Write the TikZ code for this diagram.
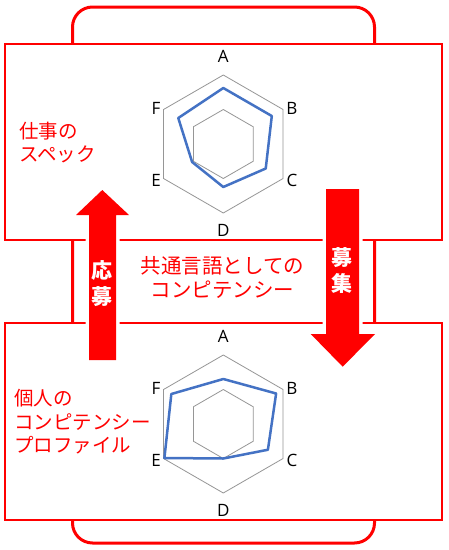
\documentclass[tikz,border=0pt]{standalone}
\usepackage{fontspec}
\setmainfont{Open Sans}
\newfontfamily\jpfont{Noto Sans CJK JP}
\usetikzlibrary{calc}
\definecolor{chartblue}{RGB}{68,114,196}
\definecolor{gridgray}{RGB}{150,150,150}
\tikzset{
  frame/.style={draw=red, line width=2.5pt, fill=white},
  outerframe/.style={draw=red, line width=3pt, rounded corners=20pt},
  grid/.style={draw=gridgray, line width=0.8pt},
  datapoly/.style={draw=chartblue, line width=2.5pt, line join=round},
  axislabel/.style={font=\fontsize{17}{19}\selectfont, inner sep=0pt},
  jptext/.style={text=red, font=\jpfont\fontsize{19.5}{23.5}\selectfont, inner sep=0pt},
  jpcenter/.style={text=red, font=\jpfont\fontsize{20.5}{24}\selectfont, inner sep=0pt},
  arrowtext/.style={text=white, font=\jpfont\bfseries\fontsize{21}{26}\selectfont, inner sep=0pt, align=center},
  arrowfill/.style={fill=red},
  arrowhalo/.style={draw=white, line width=7pt, line join=miter},
}
\begin{document}
\begin{tikzpicture}[x=1pt,y=-1pt]
\useasboundingbox (0,0) rectangle (449,550);
% outer rounded frame
\draw[outerframe] (72.5,7) rectangle (374.5,543);
% two panels
\path[frame] (5,44) rectangle (442,240);
\path[frame] (5,323) rectangle (442,520);
% radar centres
\coordinate (c1) at (223.3,144);
\coordinate (c2) at (223.3,424);
% grids
\foreach \cc in {c1,c2}{
  \foreach \r in {34.5pt,69pt}{
    \draw[grid] ($(\cc)+(90:\r)$) -- ($(\cc)+(30:\r)$) -- ($(\cc)+(-30:\r)$) -- ($(\cc)+(-90:\r)$) -- ($(\cc)+(-150:\r)$) -- ($(\cc)+(150:\r)$) -- cycle;
  }
}
% data polygons
\draw[datapoly] ($(c1)+(90:56pt)$) -- ($(c1)+(30:56pt)$) -- ($(c1)+(-30:49pt)$) -- ($(c1)+(-90:43pt)$) -- ($(c1)+(-150:36pt)$) -- ($(c1)+(150:52pt)$) -- cycle;
\draw[datapoly] ($(c2)+(90:45pt)$) -- ($(c2)+(30:61pt)$) -- ($(c2)+(-30:51.5pt)$) -- ($(c2)+(-90:34.5pt)$) -- ($(c2)+(-150:68pt)$) -- ($(c2)+(150:60pt)$) -- cycle;
% axis labels chart 1
\node[axislabel] (a1) at (223.3,56) {A};
\node[axislabel] (b1) at (292,108) {B};
\node[axislabel] (cl1) at (292,180) {C};
\node[axislabel] (d1) at (223.3,230) {D};
\node[axislabel] (e1) at (156,180) {E};
\node[axislabel] (f1) at (156,108) {F};
% axis labels chart 2
\node[axislabel] (a2) at (223.3,336) {A};
\node[axislabel] (b2) at (292,388) {B};
\node[axislabel] (cl2) at (292,460) {C};
\node[axislabel] (d2) at (223.3,510) {D};
\node[axislabel] (e2) at (156,460) {E};
\node[axislabel] (f2) at (156,388) {F};
% arrows
\path[arrowhalo] (102.3,190) -- (129,215) -- (116,215) -- (116,360) -- (89,360) -- (89,215) -- (76,215) -- cycle;
\path[arrowfill] (102.3,190) -- (129,215) -- (116,215) -- (116,360) -- (89,360) -- (89,215) -- (76,215) -- cycle;
\path[arrowhalo] (326,189) -- (359,189) -- (359,334) -- (375,334) -- (342.7,366.7) -- (310.7,334) -- (326,334) -- cycle;
\path[arrowfill] (326,189) -- (359,189) -- (359,334) -- (375,334) -- (342.7,366.7) -- (310.7,334) -- (326,334) -- cycle;
\node[arrowtext] (oubo) at (102.5,283.5) {応\\募};
\node[arrowtext] (boshu) at (342.2,270.5) {募\\集};
% texts
\node[jptext, anchor=west, align=left] (spec) at (19,142.5) {仕事の\\スペック};
\node[jptext, anchor=west, align=left] (profile) at (14,422) {個人の\\コンピテンシー\\プロファイル};
\node[jpcenter, align=center] (common) at (222.5,277) {共通言語としての\\コンピテンシー};
\end{tikzpicture}
\end{document}
